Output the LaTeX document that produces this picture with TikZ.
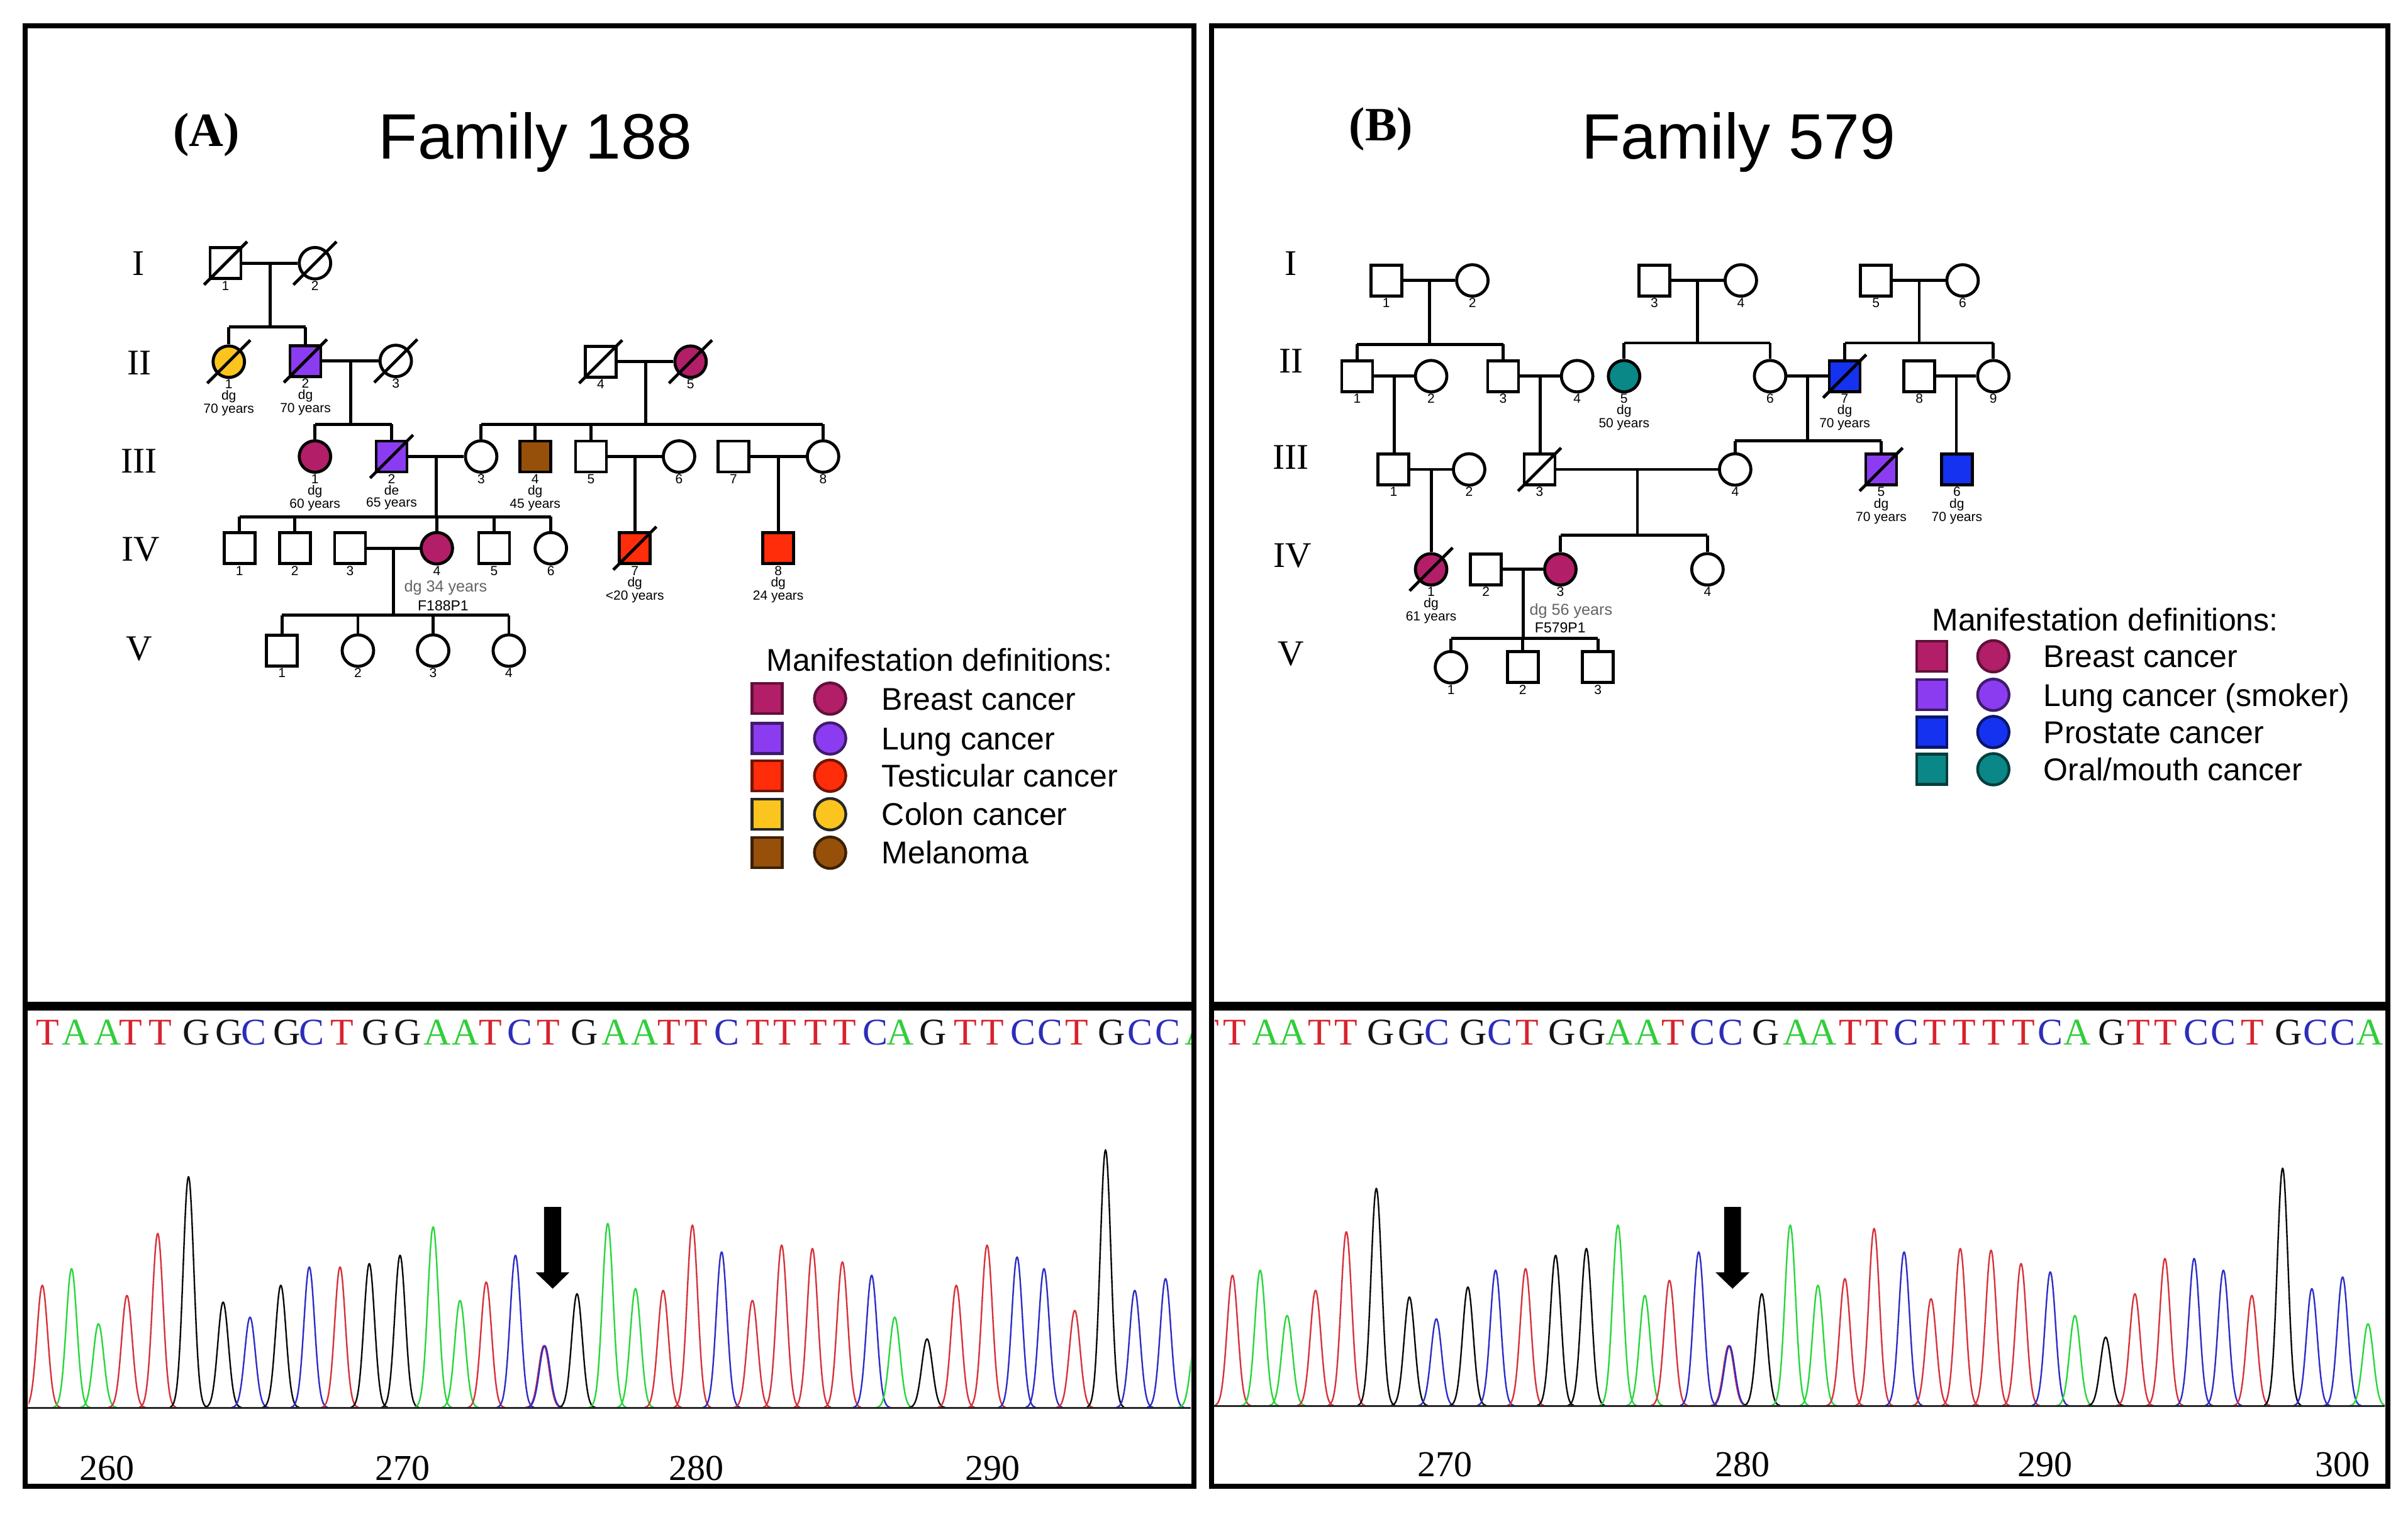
\documentclass[tikz,border=0pt]{standalone}
\usepackage{fontspec}
\setmainfont{Liberation Serif}
\newfontfamily\arial{Liberation Sans}
\usetikzlibrary{calc}
\definecolor{cBreast}{RGB}{178,30,104}
\definecolor{cLung}{RGB}{140,60,240}
\definecolor{cTest}{RGB}{255,45,10}
\definecolor{cColon}{RGB}{252,196,30}
\definecolor{cMel}{RGB}{150,80,10}
\definecolor{cPros}{RGB}{20,50,240}
\definecolor{cOral}{RGB}{10,135,135}
\definecolor{sT}{RGB}{215,35,45}
\definecolor{sA}{RGB}{50,205,60}
\definecolor{sG}{RGB}{20,20,20}
\definecolor{sC}{RGB}{45,45,185}
\definecolor{pR}{RGB}{215,50,60}
\definecolor{pG}{RGB}{40,215,60}
\definecolor{pB}{RGB}{45,45,200}
\definecolor{pK}{RGB}{10,10,10}
\definecolor{lblgray}{RGB}{100,100,100}

\newcommand{\lb}[2]{\node[lab] (#1l) at ($(#1)+(0,11.4)$) {#2};}
\newcommand{\dcs}[1]{\draw[pline] ($(#1)+(-14,14)$) -- ($(#1)+(14,-14)$);}
\newcommand{\sib}[4]{% #1 marriage mid coord, #2 sibship coord name, #3 first child, #4 last child
  \draw[pline] (#1) -- (#1 |- #2);
  \draw[pline] (#3 |- #2) -- (#4 |- #2);}
\newcommand{\drop}[2]{\draw[pline] (#2 |- #1) -- (#2);}
\newcommand{\peaks}[2]{%
  \foreach \px/\py/\pc in {#2} {
    \draw[\pc, line width=1.2pt, line join=round]
      plot[domain=-12:12, samples=41, smooth] ({\px+\x},{#1-(#1-\py)*exp(-((\x)*(\x))/24)});
  }}

\begin{document}
\begin{tikzpicture}[x={(1.223pt,0)}, y={(0,-1.223pt)},
  pline/.style={line width=2.4pt},
  sqr/.style={draw, rectangle, line width=2.4pt, minimum size=24.5pt, inner sep=0pt, fill=white},
  crc/.style={draw, circle, line width=2.4pt, minimum size=25pt, inner sep=0pt, fill=white},
  lab/.style={font=\arial\fontsize{10.5}{9.2}\selectfont, align=center, inner sep=0pt, anchor=north},
  gen/.style={font=\fontsize{28.7}{30}\selectfont, anchor=base, inner sep=0pt},
  ttl/.style={font=\arial\fontsize{51}{52}\selectfont, anchor=base, inner sep=0pt},
  plab/.style={font=\bfseries\fontsize{38}{40}\selectfont, anchor=base, inner sep=0pt},
  lsq/.style={draw, rectangle, line width=2.2pt, minimum size=24pt, inner sep=0pt},
  lcr/.style={draw, circle, line width=2.2pt, minimum size=25pt, inner sep=0pt},
  leg/.style={font=\arial\fontsize{25}{26}\selectfont, anchor=base west, inner sep=0pt},
  grayl/.style={font=\arial\fontsize{12.6}{13}\selectfont, text=lblgray, inner sep=0pt},
  idl/.style={font=\arial\fontsize{11.5}{12}\selectfont, inner sep=0pt},
  seq/.style={font=\fontsize{30}{31}\selectfont, anchor=base, inner sep=0pt},
  axn/.style={font=\fontsize{29}{30}\selectfont, anchor=base, inner sep=0pt}
]
\useasboundingbox (0,0) rectangle (1565,986.9);
\fill[white] (0,0) rectangle (1565,986.9);

% ================= Panel frames =================
\draw[line width=4pt] (16.4,16.7) rectangle (776,965.7);
\draw[line width=7pt] (16.4,653.7) -- (776,653.7);
\draw[line width=4pt] (787.4,16.7) rectangle (1552,965.7);
\draw[line width=7pt] (787.4,653.7) -- (1552,653.7);

% ================= Panel A heading =================
\node[plab] (pA) at (134,95) {(A)};
\node[ttl] (tA) at (348,103.2) {Family 188};
\node[gen] (gAI) at (90,178.7) {I};
\node[gen] (gAII) at (90.5,243.4) {II};
\node[gen] (gAIII) at (90.5,307.2) {III};
\node[gen] (gAIV) at (91.5,364.4) {IV};
\node[gen] (gAV) at (90.5,429.1) {V};

% ---- Pedigree A nodes
\node[sqr] (aI1) at (146.6,171) {};
\node[crc] (aI2) at (204.7,171) {};
\node[crc, fill=cColon] (aII1) at (148.7,235) {};
\node[sqr, fill=cLung] (aII2) at (198.5,234.5) {};
\node[crc] (aII3) at (257.2,234.5) {};
\node[sqr] (aII4) at (390.4,235) {};
\node[crc, fill=cBreast] (aII5) at (448.8,235) {};
\node[crc, fill=cBreast] (aIII1) at (204.7,296.6) {};
\node[sqr, fill=cLung] (aIII2) at (254.5,296.6) {};
\node[crc] (aIII3) at (312.7,296.6) {};
\node[sqr, fill=cMel] (aIII4) at (347.8,296.6) {};
\node[sqr] (aIII5) at (384.1,296.6) {};
\node[crc] (aIII6) at (441.3,296.6) {};
\node[sqr] (aIII7) at (476.7,296.6) {};
\node[crc] (aIII8) at (534.9,296.6) {};
\node[sqr] (aIV1) at (155.6,356.2) {};
\node[sqr] (aIV2) at (191.6,356.2) {};
\node[sqr] (aIV3) at (227.5,356.2) {};
\node[crc, fill=cBreast] (aIV4) at (283.9,356.2) {};
\node[sqr] (aIV5) at (321.1,356.2) {};
\node[crc] (aIV6) at (358,356.2) {};
\node[sqr, fill=cTest] (aIV7) at (412.6,356.2) {};
\node[sqr, fill=cTest] (aIV8) at (505.8,356.2) {};
\node[sqr] (aV1) at (183.2,422.7) {};
\node[crc] (aV2) at (232.6,422.7) {};
\node[crc] (aV3) at (281.5,422.7) {};
\node[crc] (aV4) at (330.7,422.7) {};

% deceased A
\dcs{aI1}\dcs{aI2}\dcs{aII1}\dcs{aII2}\dcs{aII3}\dcs{aII4}\dcs{aII5}\dcs{aIII2}\dcs{aIV7}

% marriages A
\draw[pline] (aI1) -- (aI2);
\draw[pline] (aII2) -- (aII3);
\draw[pline] (aII4) -- (aII5);
\draw[pline] (aIII2) -- (aIII3);
\draw[pline] (aIII5) -- (aIII6);
\draw[pline] (aIII7) -- (aIII8);
\draw[pline] (aIV3) -- (aIV4);
\coordinate (amI) at ($(aI1)!0.5!(aI2)$);
\coordinate (amII) at ($(aII2)!0.5!(aII3)$);
\coordinate (amII2) at ($(aII4)!0.5!(aII5)$);
\coordinate (amIII) at ($(aIII2)!0.5!(aIII3)$);
\coordinate (amIII2) at ($(aIII5)!0.5!(aIII6)$);
\coordinate (amIII3) at ($(aIII7)!0.5!(aIII8)$);
\coordinate (amIV) at ($(aIV3)!0.5!(aIV4)$);
\coordinate (asI) at (0,212.5);
\coordinate (asII) at (0,275.7);
\coordinate (asIII) at (0,335.7);
\coordinate (asIV) at (0,399.7);
% sibships A
\sib{amI}{asI}{aII1}{aII2} \drop{asI}{aII1} \drop{asI}{aII2}
\sib{amII}{asII}{aIII1}{aIII2} \drop{asII}{aIII1} \drop{asII}{aIII2}
\sib{amII2}{asII}{aIII3}{aIII8} \drop{asII}{aIII3} \drop{asII}{aIII4} \drop{asII}{aIII5} \drop{asII}{aIII8}
\sib{amIII}{asIII}{aIV1}{aIV6} \drop{asIII}{aIV1} \drop{asIII}{aIV2} \drop{asIII}{aIV4} \drop{asIII}{aIV5} \drop{asIII}{aIV6}
\draw[pline] (amIII2) -- (amIII2 |- aIV7.north);
\draw[pline] (amIII3) -- (amIII3 |- aIV8.north);
\sib{amIV}{asIV}{aV1}{aV4} \drop{asIV}{aV1} \drop{asIV}{aV2} \drop{asIV}{aV3} \drop{asIV}{aV4}

% labels A
\lb{aI1}{1} \lb{aI2}{2}
\lb{aII1}{1\\dg\\70 years} \lb{aII2}{2\\dg\\70 years} \lb{aII3}{3} \lb{aII4}{4} \lb{aII5}{5}
\lb{aIII1}{1\\dg\\60 years} \lb{aIII2}{2\\de\\65 years} \lb{aIII3}{3} \lb{aIII4}{4\\dg\\45 years}
\lb{aIII5}{5} \lb{aIII6}{6} \lb{aIII7}{7} \lb{aIII8}{8}
\lb{aIV1}{1} \lb{aIV2}{2} \lb{aIV3}{3} \lb{aIV4}{4} \lb{aIV5}{5} \lb{aIV6}{6}
\lb{aIV7}{7\\dg\\<20 years} \lb{aIV8}{8\\dg\\24 years}
\lb{aV1}{1} \lb{aV2}{2} \lb{aV3}{3} \lb{aV4}{4}
\node[grayl] (aIV4g) at (289.6,382) {dg 34 years};
\node[idl] (aIV4id) at (288,393.4) {F188P1};

% legend A
\node[leg] (legAt) at (498,436.2) {Manifestation definitions:};
\node[lsq, fill=cBreast, draw=cBreast!55!black] (lA1s) at (498.5,453.9) {};
\node[lcr, fill=cBreast, draw=cBreast!55!black] (lA1c) at (539.5,453.9) {};
\node[leg] (lA1t) at (573,461.2) {Breast cancer};
\node[lsq, fill=cLung, draw=cLung!45!black] (lA2s) at (498.5,479.8) {};
\node[lcr, fill=cLung, draw=cLung!45!black] (lA2c) at (539.5,479.8) {};
\node[leg] (lA2t) at (573,487.1) {Lung cancer};
\node[lsq, fill=cTest, draw=cTest!45!black] (lA3s) at (498.5,504) {};
\node[lcr, fill=cTest, draw=cTest!45!black] (lA3c) at (539.5,504) {};
\node[leg] (lA3t) at (573,511.3) {Testicular cancer};
\node[lsq, fill=cColon, draw=black!85] (lA4s) at (498.5,529) {};
\node[lcr, fill=cColon, draw=black!85] (lA4c) at (539.5,529) {};
\node[leg] (lA4t) at (573,536.3) {Colon cancer};
\node[lsq, fill=cMel, draw=cMel!40!black] (lA5s) at (498.5,554) {};
\node[lcr, fill=cMel, draw=cMel!40!black] (lA5c) at (539.5,554) {};
\node[leg] (lA5t) at (573,561.3) {Melanoma};

% ================= Panel B heading =================
\node[plab] (pB) at (897.6,91.5) {(B)};
\node[ttl] (tB) at (1130,103.2) {Family 579};
\node[gen] (gBI) at (839,178.7) {I};
\node[gen] (gBII) at (839,242.2) {II};
\node[gen] (gBIII) at (839,304.7) {III};
\node[gen] (gBIV) at (840,368.6) {IV};
\node[gen] (gBV) at (839,432.4) {V};

% ---- Pedigree B nodes
\node[sqr] (bI1) at (900.9,182.2) {};
\node[crc] (bI2) at (956.9,182.2) {};
\node[sqr] (bI3) at (1075.2,182.2) {};
\node[crc] (bI4) at (1131.4,182.2) {};
\node[sqr] (bI5) at (1219.2,182.2) {};
\node[crc] (bI6) at (1275.5,182.2) {};
\node[sqr] (bII1) at (882,244.4) {};
\node[crc] (bII2) at (930.1,244.4) {};
\node[sqr] (bII3) at (976.9,244.4) {};
\node[crc] (bII4) at (1025,244.4) {};
\node[crc, fill=cOral] (bII5) at (1055.5,244.4) {};
\node[crc] (bII6) at (1150.4,244.4) {};
\node[sqr, fill=cPros] (bII7) at (1198.9,244.4) {};
\node[sqr] (bII8) at (1247.4,244.4) {};
\node[crc] (bII9) at (1295.5,244.4) {};
\node[sqr] (bIII1) at (905.7,305) {};
\node[crc] (bIII2) at (954.8,305) {};
\node[sqr] (bIII3) at (1000.6,305) {};
\node[crc] (bIII4) at (1127.7,305) {};
\node[sqr, fill=cLung] (bIII5) at (1222.6,305) {};
\node[sqr, fill=cPros] (bIII6) at (1271.8,305) {};
\node[crc, fill=cBreast] (bIV1) at (930.1,369.9) {};
\node[sqr] (bIV2) at (965.7,369.9) {};
\node[crc, fill=cBreast] (bIV3) at (1014.1,369.9) {};
\node[crc] (bIV4) at (1109.7,369.9) {};
\node[crc] (bV1) at (943,433.5) {};
\node[sqr] (bV2) at (989.7,433.5) {};
\node[sqr] (bV3) at (1038.5,433.5) {};

\dcs{bII7}\dcs{bIII3}\dcs{bIII5}\dcs{bIV1}

% marriages B
\draw[pline] (bI1) -- (bI2);
\draw[pline] (bI3) -- (bI4);
\draw[pline] (bI5) -- (bI6);
\draw[pline] (bII1) -- (bII2);
\draw[pline] (bII3) -- (bII4);
\draw[pline] (bII6) -- (bII7);
\draw[pline] (bII8) -- (bII9);
\draw[pline] (bIII1) -- (bIII2);
\draw[pline] (bIII3) -- (bIII4);
\draw[pline] (bIV2) -- (bIV3);
\coordinate (bmI1) at ($(bI1)!0.5!(bI2)$);
\coordinate (bmI2) at ($(bI3)!0.5!(bI4)$);
\coordinate (bmI3) at ($(bI5)!0.5!(bI6)$);
\coordinate (bmII1) at ($(bII1)!0.5!(bII2)$);
\coordinate (bmII2) at ($(bII3)!0.5!(bII4)$);
\coordinate (bmII3) at ($(bII6)!0.5!(bII7)$);
\coordinate (bmII4) at ($(bII8)!0.5!(bII9)$);
\coordinate (bmIII1) at ($(bIII1)!0.5!(bIII2)$);
\coordinate (bmIII2) at ($(bIII3)!0.5!(bIII4)$);
\coordinate (bmIV) at ($(bIV2)!0.5!(bIV3)$);
\coordinate (bsI1) at (0,223.7);
\coordinate (bsI2) at (0,222.8);
\coordinate (bsII) at (0,286.4);
\coordinate (bsIII) at (0,347.8);
\coordinate (bsIV) at (0,414.9);
\sib{bmI1}{bsI1}{bII1}{bII3} \drop{bsI1}{bII1} \drop{bsI1}{bII3}
\sib{bmI2}{bsI2}{bII5}{bII6} \drop{bsI2}{bII5} \drop{bsI2}{bII6}
\sib{bmI3}{bsI2}{bII7}{bII9} \drop{bsI2}{bII7} \drop{bsI2}{bII9}
\draw[pline] (bmII1) -- (bmII1 |- bIII1.north);
\draw[pline] (bmII2) -- (bmII2 |- bIII3.north);
\sib{bmII3}{bsII}{bIII4}{bIII5} \drop{bsII}{bIII4} \drop{bsII}{bIII5}
\draw[pline] (bmII4) -- (bmII4 |- bIII6.north);
\draw[pline] (bmIII1) -- (bmIII1 |- bIV1.north);
\sib{bmIII2}{bsIII}{bIV3}{bIV4} \drop{bsIII}{bIV3} \drop{bsIII}{bIV4}
\sib{bmIV}{bsIV}{bV1}{bV3} \drop{bsIV}{bV1} \drop{bsIV}{bV2} \drop{bsIV}{bV3}

% labels B
\lb{bI1}{1} \lb{bI2}{2} \lb{bI3}{3} \lb{bI4}{4} \lb{bI5}{5} \lb{bI6}{6}
\lb{bII1}{1} \lb{bII2}{2} \lb{bII3}{3} \lb{bII4}{4} \lb{bII5}{5\\dg\\50 years} \lb{bII6}{6}
\lb{bII7}{7\\dg\\70 years} \lb{bII8}{8} \lb{bII9}{9}
\lb{bIII1}{1} \lb{bIII2}{2} \lb{bIII3}{3} \lb{bIII4}{4} \lb{bIII5}{5\\dg\\70 years} \lb{bIII6}{6\\dg\\70 years}
\lb{bIV1}{1\\dg\\61 years} \lb{bIV2}{2} \lb{bIV3}{3} \lb{bIV4}{4}
\lb{bV1}{1} \lb{bV2}{2} \lb{bV3}{3}
\node[grayl] (bIV3g) at (1021,396.9) {dg 56 years};
\node[idl] (bIV3id) at (1014,408) {F579P1};

% legend B
\node[leg] (legBt) at (1255.5,409.9) {Manifestation definitions:};
\node[lsq, fill=cBreast, draw=cBreast!55!black] (lB1s) at (1255.5,426.4) {};
\node[lcr, fill=cBreast, draw=cBreast!55!black] (lB1c) at (1295.5,426.4) {};
\node[leg] (lB1t) at (1328,433.7) {Breast cancer};
\node[lsq, fill=cLung, draw=cLung!45!black] (lB2s) at (1255.5,451.4) {};
\node[lcr, fill=cLung, draw=cLung!45!black] (lB2c) at (1295.5,451.4) {};
\node[leg] (lB2t) at (1328,458.7) {Lung cancer (smoker)};
\node[lsq, fill=cPros, draw=cPros!45!black] (lB3s) at (1255.5,475.6) {};
\node[lcr, fill=cPros, draw=cPros!45!black] (lB3c) at (1295.5,475.6) {};
\node[leg] (lB3t) at (1328,482.9) {Prostate cancer};
\node[lsq, fill=cOral, draw=cOral!45!black] (lB4s) at (1255.5,499.8) {};
\node[lcr, fill=cOral, draw=cOral!45!black] (lB4c) at (1295.5,499.8) {};
\node[leg] (lB4t) at (1328,507.1) {Oral/mouth cancer};

% ================= Chromatogram A =================
\begin{scope}
\clip (18.5,657.5) rectangle (774,700);
\foreach \lx/\ll/\lc [count=\i] in {31/T/sT, 49/A/sA, 70/A/sA, 85/T/sT, 104/T/sT, 127.5/G/sG, 149/G/sG, 165/C/sC, 186.5/G/sG, 202.5/C/sC, 222.5/T/sT, 244/G/sG, 265/G/sG, 284/A/sA, 302.5/A/sA, 319/T/sT, 338/C/sC, 356.5/T/sT, 380/G/sG, 400/A/sA, 419/A/sA, 435/T/sT, 452.5/T/sT, 472.5/C/sC, 492.5/T/sT, 510/T/sT, 530/T/sT, 549/T/sT, 569/C/sC, 585/A/sA, 606.5/G/sG, 627.5/T/sT, 645/T/sT, 665/C/sC, 682.5/C/sC, 700/T/sT, 722.5/G/sG, 741/C/sC, 759/C/sC, 779/A/sA}
  \node[seq, text=\lc] (sqA\i) at (\lx,678.7) {\ll};
\end{scope}
\begin{scope}
\clip (18.5,700) rectangle (774,915);
\peaks{914.6}{27.5/835.1/pR, 46.5/824.3/pG, 64/860.1/pG, 82.5/841.7/pR, 102.5/801.4/pR, 122.5/764.5/pK, 145/846/pK, 162.5/855.8/pB, 182.5/835.1/pK, 201/823.2/pB, 221/823.2/pR, 240/821/pK, 260/815.6/pK, 281.5/797.1/pG, 299/844.9/pG, 316/833/pR, 335/815.6/pB, 353.5/874.3/pR, 354/874.3/pB, 375/840.6/pK, 395/794.9/pG, 413/837.3/pG, 431/838.4/pR, 450/796/pR, 469/813.4/pB, 489/844.9/pR, 508/809/pR, 528/811.2/pR, 547.5/819.9/pR, 566.5/828.6/pB, 581.5/855.8/pG, 602.5/869.9/pK, 621.5/835.1/pR, 641.5/809/pR, 661/816.7/pB, 678.5/824.3/pB, 698.5/851.4/pR, 718.5/747.1/pK, 737.5/838.4/pB, 757.5/830.8/pB, 777.5/865.5/pG}
\end{scope}
\draw[line width=1.5pt, black!85] (18,914.6) -- (774,914.6);
\fill[black] (353.6,784.2) -- (364.7,784.2) -- (364.7,826.7) -- (370,826.7) -- (359.2,837.3) -- (348.2,826.7) -- (353.6,826.7) -- cycle;
\node[axn] (nA1) at (69.5,961.8) {260};
\node[axn] (nA2) at (261.5,961.8) {270};
\node[axn] (nA3) at (452.5,961.8) {280};
\node[axn] (nA4) at (645,961.8) {290};

% ================= Chromatogram B =================
\begin{scope}
\clip (789.5,657.5) rectangle (1550,700);
\foreach \lx/\ll/\lc [count=\i] in {785/T/sT, 802.5/T/sT, 822.5/A/sA, 840/A/sA, 857.5/T/sT, 875/T/sT, 897.5/G/sG, 917.5/G/sG, 934/C/sC, 957.5/G/sG, 975/C/sC, 992.5/T/sT, 1015/G/sG, 1035/G/sG, 1052.5/A/sA, 1071/A/sA, 1087.5/T/sT, 1106.5/C/sC, 1125/C/sC, 1147.5/G/sG, 1167.5/A/sA, 1185/A/sA, 1202.5/T/sT, 1220/T/sT, 1239/C/sC, 1257.5/T/sT, 1276.5/T/sT, 1296/T/sT, 1315/T/sT, 1332.5/C/sC, 1350/A/sA, 1372.5/G/sG, 1390/T/sT, 1407.5/T/sT, 1427.5/C/sC, 1445/C/sC, 1464/T/sT, 1487.5/G/sG, 1505/C/sC, 1522.5/C/sC, 1540/A/sA}
  \node[seq, text=\lc] (sqB\i) at (\lx,678.7) {\ll};
\end{scope}
\begin{scope}
\clip (789.5,700) rectangle (1550,914);
\peaks{913.4}{801/828.6/pR, 819/825.3/pG, 836.5/854.7/pG, 855/838.4/pR, 875/800.3/pR, 894.5/772.1/pK, 916/842.7/pK, 933.5/856.9/pB, 954/836.2/pK, 972/825.3/pB, 991.5/824.3/pR, 1011/815.6/pK, 1031/811.2/pK, 1051.5/796/pG, 1069/841.7/pG, 1085/831.9/pR, 1104/813.4/pB, 1123.5/874.3/pR, 1124/874.3/pB, 1145/840.6/pK, 1163.5/796/pG, 1181.5/835.1/pG, 1199/830.8/pR, 1218/798.2/pR, 1237.5/813.4/pB, 1255/843.8/pR, 1274/811.2/pR, 1294/812.3/pR, 1313.5/821/pR, 1332.5/826.4/pB, 1348.5/854.7/pG, 1368.5/868.8/pK, 1387.5/840.6/pR, 1407/817.7/pR, 1426/817.7/pB, 1445/825.3/pB, 1463.5/841.7/pR, 1483.5/759/pK, 1502.5/837.3/pB, 1522.5/829.7/pB, 1539/860.1/pG}
\end{scope}
\draw[line width=1.5pt, black!85] (789,913.4) -- (1550,913.4);
\fill[black] (1120.5,784.2) -- (1131.5,784.2) -- (1131.5,826.7) -- (1137,826.7) -- (1126,837.3) -- (1115,826.7) -- (1120.5,826.7) -- cycle;
\node[axn] (nB1) at (939,959.4) {270};
\node[axn] (nB2) at (1132.5,959.4) {280};
\node[axn] (nB3) at (1329,959.4) {290};
\node[axn] (nB4) at (1522.5,959.4) {300};
\end{tikzpicture}
\end{document}
